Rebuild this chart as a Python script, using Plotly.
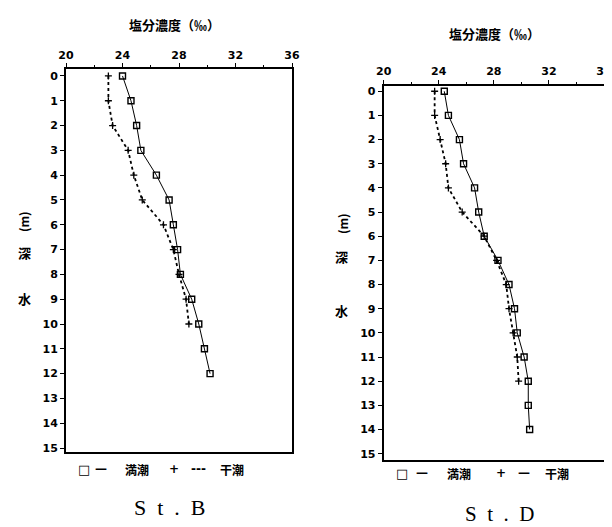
import plotly.graph_objects as go

# Depths (m)
depth_B_high = list(range(0, 13))
depth_B_low = list(range(0, 11))
depth_D_high = list(range(0, 15))
depth_D_low = list(range(0, 13))

# Salinity (permil) - St.B
sal_B_high = [24.0, 24.6, 25.0, 25.3, 26.4, 27.3, 27.6, 27.9, 28.1, 28.9, 29.4, 29.8, 30.2]
sal_B_low = [23.0, 23.0, 23.3, 24.4, 24.8, 25.4, 26.9, 27.6, 28.0, 28.5, 28.7]
# Salinity (permil) - St.D
sal_D_high = [24.4, 24.7, 25.5, 25.8, 26.6, 26.9, 27.3, 28.3, 29.1, 29.5, 29.7, 30.2, 30.5, 30.5, 30.6]
sal_D_low = [23.7, 23.7, 24.1, 24.5, 24.7, 25.7, 27.3, 28.2, 28.9, 29.1, 29.4, 29.7, 29.8]

x_ticks = [20, 24, 28, 32, 36]
x_minor = [22, 26, 30, 34]
y_ticks = list(range(0, 16))

x_title = "塩分濃度（‰）"
high_label = "満潮"
low_label = "干潮"
stations = ["S\u2002t\u2002.\u2002B", "S\u2002t\u2002.\u2002D"]

W, H = 612, 527
jp = "Noto Sans CJK JP"
num_font = dict(family="DejaVu Sans", size=11, color="black", weight="bold")

fig = go.Figure()

def add_profile(sal_hi, dep_hi, sal_lo, dep_lo, xa, ya):
    fig.add_trace(go.Scatter(
        x=sal_lo, y=dep_lo, mode="lines+markers", xaxis=xa, yaxis=ya,
        line=dict(color="black", width=1.8, dash="dot"),
        marker=dict(symbol="cross-thin-open", size=5, color="black", line=dict(width=1.3, color="black")),
        showlegend=False))
    fig.add_trace(go.Scatter(
        x=sal_hi, y=dep_hi, mode="lines+markers", xaxis=xa, yaxis=ya,
        line=dict(color="black", width=1),
        marker=dict(symbol="square-open", size=6, color="black", line=dict(width=1.4, color="black")),
        showlegend=False))

add_profile(sal_B_high, depth_B_high, sal_B_low, depth_B_low, "x", "y")
add_profile(sal_D_high, depth_D_high, sal_D_low, depth_D_low, "x2", "y2")

def px_x(x):
    return x / W

def px_y(y):
    return 1 - y / H

def xaxis_cfg(x0, x1, anchor):
    return dict(domain=[px_x(x0), px_x(x1)], anchor=anchor, side="top", range=[20, 36],
                automargin=False,
                tickvals=x_ticks, ticks="outside", ticklen=4, tickwidth=1,
                tickcolor="black", showgrid=False, zeroline=False,
                showline=True, linecolor="black", linewidth=2, mirror=True,
                tickfont=num_font,
                minor=dict(tickvals=x_minor, ticks="outside", ticklen=2,
                           tickcolor="black"))

def yaxis_cfg(y_bottom, y_top, anchor, rng):
    return dict(domain=[px_y(y_bottom), px_y(y_top)], anchor=anchor, range=rng, tickvals=y_ticks,
                automargin=False,
                ticks="outside", ticklen=4, tickwidth=1, tickcolor="black",
                showgrid=False, zeroline=False, showline=True, linecolor="black",
                linewidth=2, mirror=True, tickfont=num_font)

fig.update_layout(
    width=W, height=H, margin=dict(l=0, r=0, t=0, b=0, pad=0, autoexpand=False),
    paper_bgcolor="white", plot_bgcolor="white",
    xaxis=xaxis_cfg(58, 284, "y"),
    yaxis=yaxis_cfg(444, 61, "x", [15.16, -0.28]),
    xaxis2=xaxis_cfg(375.7, 596, "y2"),
    yaxis2=yaxis_cfg(451.7, 77.7, "x2", [15.25, -0.23]),
)

ann = []
def A(text, x, y, size=11, family=jp, angle=0, weight="normal"):
    ann.append(dict(text=text, x=px_x(x), y=px_y(y), xref="paper", yref="paper",
                    showarrow=False, textangle=angle, xanchor="center", yanchor="middle",
                    font=dict(family=family, size=size, color="#000000", weight=weight)))

# titles
A(x_title, 167, 16, size=13, weight="bold")
A(x_title, 486, 25, size=13, weight="bold")
# vertical axis labels
for (xc, ym, yd, ys) in [(16, 214, 245, 290), (334, 215, 248, 302)]:
    A("(m)", xc, ym, size=12, angle=-90, weight="bold")
    A("深", xc, yd, size=13, weight="bold")
    A("水", xc, ys, size=13, weight="bold")
# legends
for (y, xs, xd, xh, xp, xdd, xl, dash) in [
        (461, 76, 93, 129, 166, 190, 224, "---"),
        (465, 394, 414, 451, 493, 516, 549, "—")]:
    A("□", xs, y, size=13, family="DejaVu Sans", weight="bold")
    A("—", xd, y, size=12, family="DejaVu Sans", weight="bold")
    A(high_label, xh, y, size=12, weight="bold")
    A("+", xp, y, size=12, family="DejaVu Sans", weight="bold")
    A(dash, xdd, y, size=12, family="DejaVu Sans", weight="bold")
    A(low_label, xl, y, size=12, weight="bold")
# station labels
A(stations[0], 162, 499, size=22, family="Liberation Serif")
A(stations[1], 491, 506, size=21, family="Liberation Serif")

fig.update_layout(annotations=ann)
fig.write_html("out.html")
